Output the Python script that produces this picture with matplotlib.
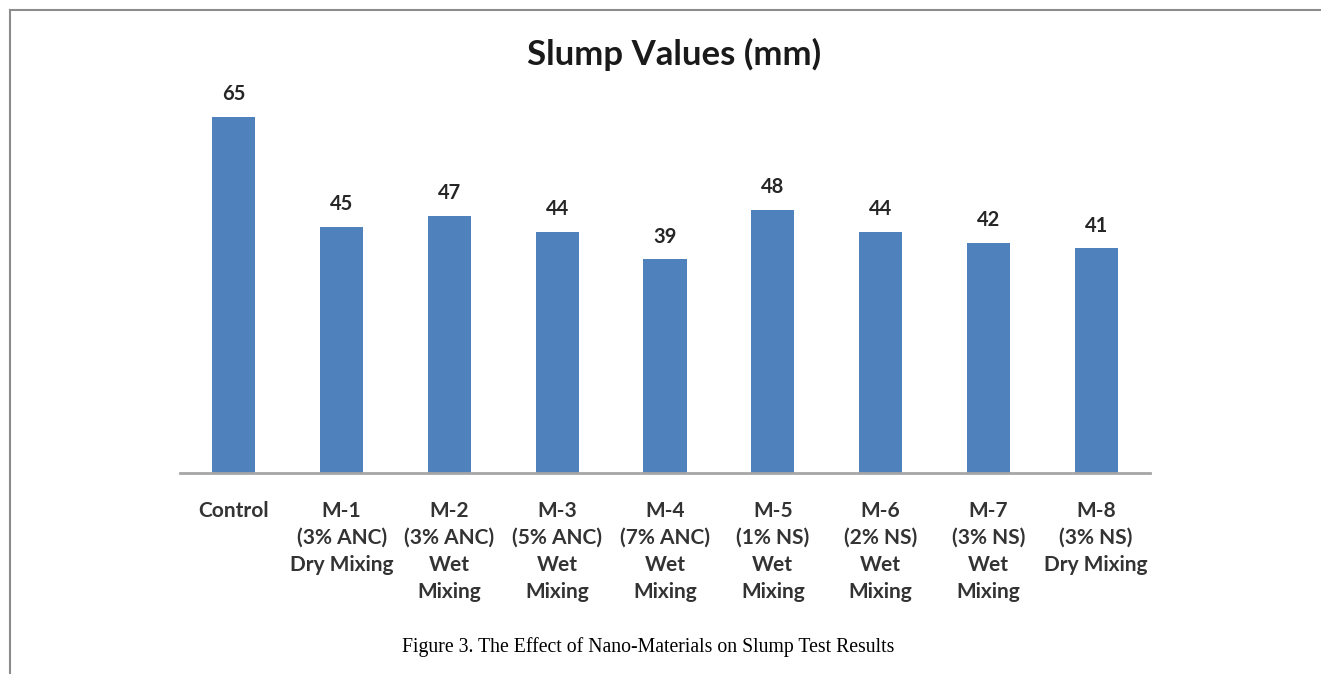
import matplotlib.pyplot as plt
from matplotlib.lines import Line2D

# Slump test results per mix
categories = [
    "Control",
    "M-1\n(3% ANC)\nDry Mixing",
    "M-2\n(3% ANC)\nWet\nMixing",
    "M-3\n(5% ANC)\nWet\nMixing",
    "M-4\n(7% ANC)\nWet\nMixing",
    "M-5\n(1% NS)\nWet\nMixing",
    "M-6\n(2% NS)\nWet\nMixing",
    "M-7\n(3% NS)\nWet\nMixing",
    "M-8\n(3% NS)\nDry Mixing",
]
slump_mm = [65, 45, 47, 44, 39, 48, 44, 42, 41]

bar_color = "#4F81BD"
label_font = "Lato"

fig = plt.figure(figsize=(13.21, 6.74), dpi=100)
ax = fig.add_axes([180 / 1321, 201 / 674, 970 / 1321, 383.4 / 674])

x = range(len(categories))
bars = ax.bar(x, slump_mm, width=0.4, color=bar_color, zorder=2)

ax.set_xlim(-0.5, len(categories) - 0.5)
ax.set_ylim(0, 70)

# value labels above each bar
for b, v in zip(bars, slump_mm):
    ax.annotate(str(v), (b.get_x() + b.get_width() / 2, v),
                xytext=(0, 12), textcoords="offset points",
                ha="center", va="baseline", fontsize=14.5,
                fontweight="bold", family=label_font, color="#262626")

ax.set_xticks(list(x))
ax.set_xticklabels(categories, fontsize=15, fontweight="bold",
                   family=label_font, color="#333333", linespacing=1.45)
ax.tick_params(axis="x", length=0, pad=20)
ax.set_yticks([])

for side in ["top", "right", "left"]:
    ax.spines[side].set_visible(False)
ax.spines["bottom"].set_color("#A6A6A6")
ax.spines["bottom"].set_linewidth(2)

fig.text(674 / 1321, 1 - 54 / 674, "Slump Values (mm)", ha="center", va="center",
         fontsize=25, fontweight="bold", family=label_font, color="#1a1a1a")

fig.text(648 / 1321, 1 - 647 / 674,
         "Figure 3. The Effect of Nano-Materials on Slump Test Results",
         ha="center", va="center", fontsize=14.2, family="Liberation Serif", color="black")

# page frame lines
fig.add_artist(Line2D([10 / 1321, 1], [1 - 10 / 674, 1 - 10 / 674],
                      transform=fig.transFigure, color="#8C8C8C", lw=1.5))
fig.add_artist(Line2D([10 / 1321, 10 / 1321], [0, 1 - 10 / 674],
                      transform=fig.transFigure, color="#8C8C8C", lw=1.5))

fig.savefig("out.png", dpi=100)
